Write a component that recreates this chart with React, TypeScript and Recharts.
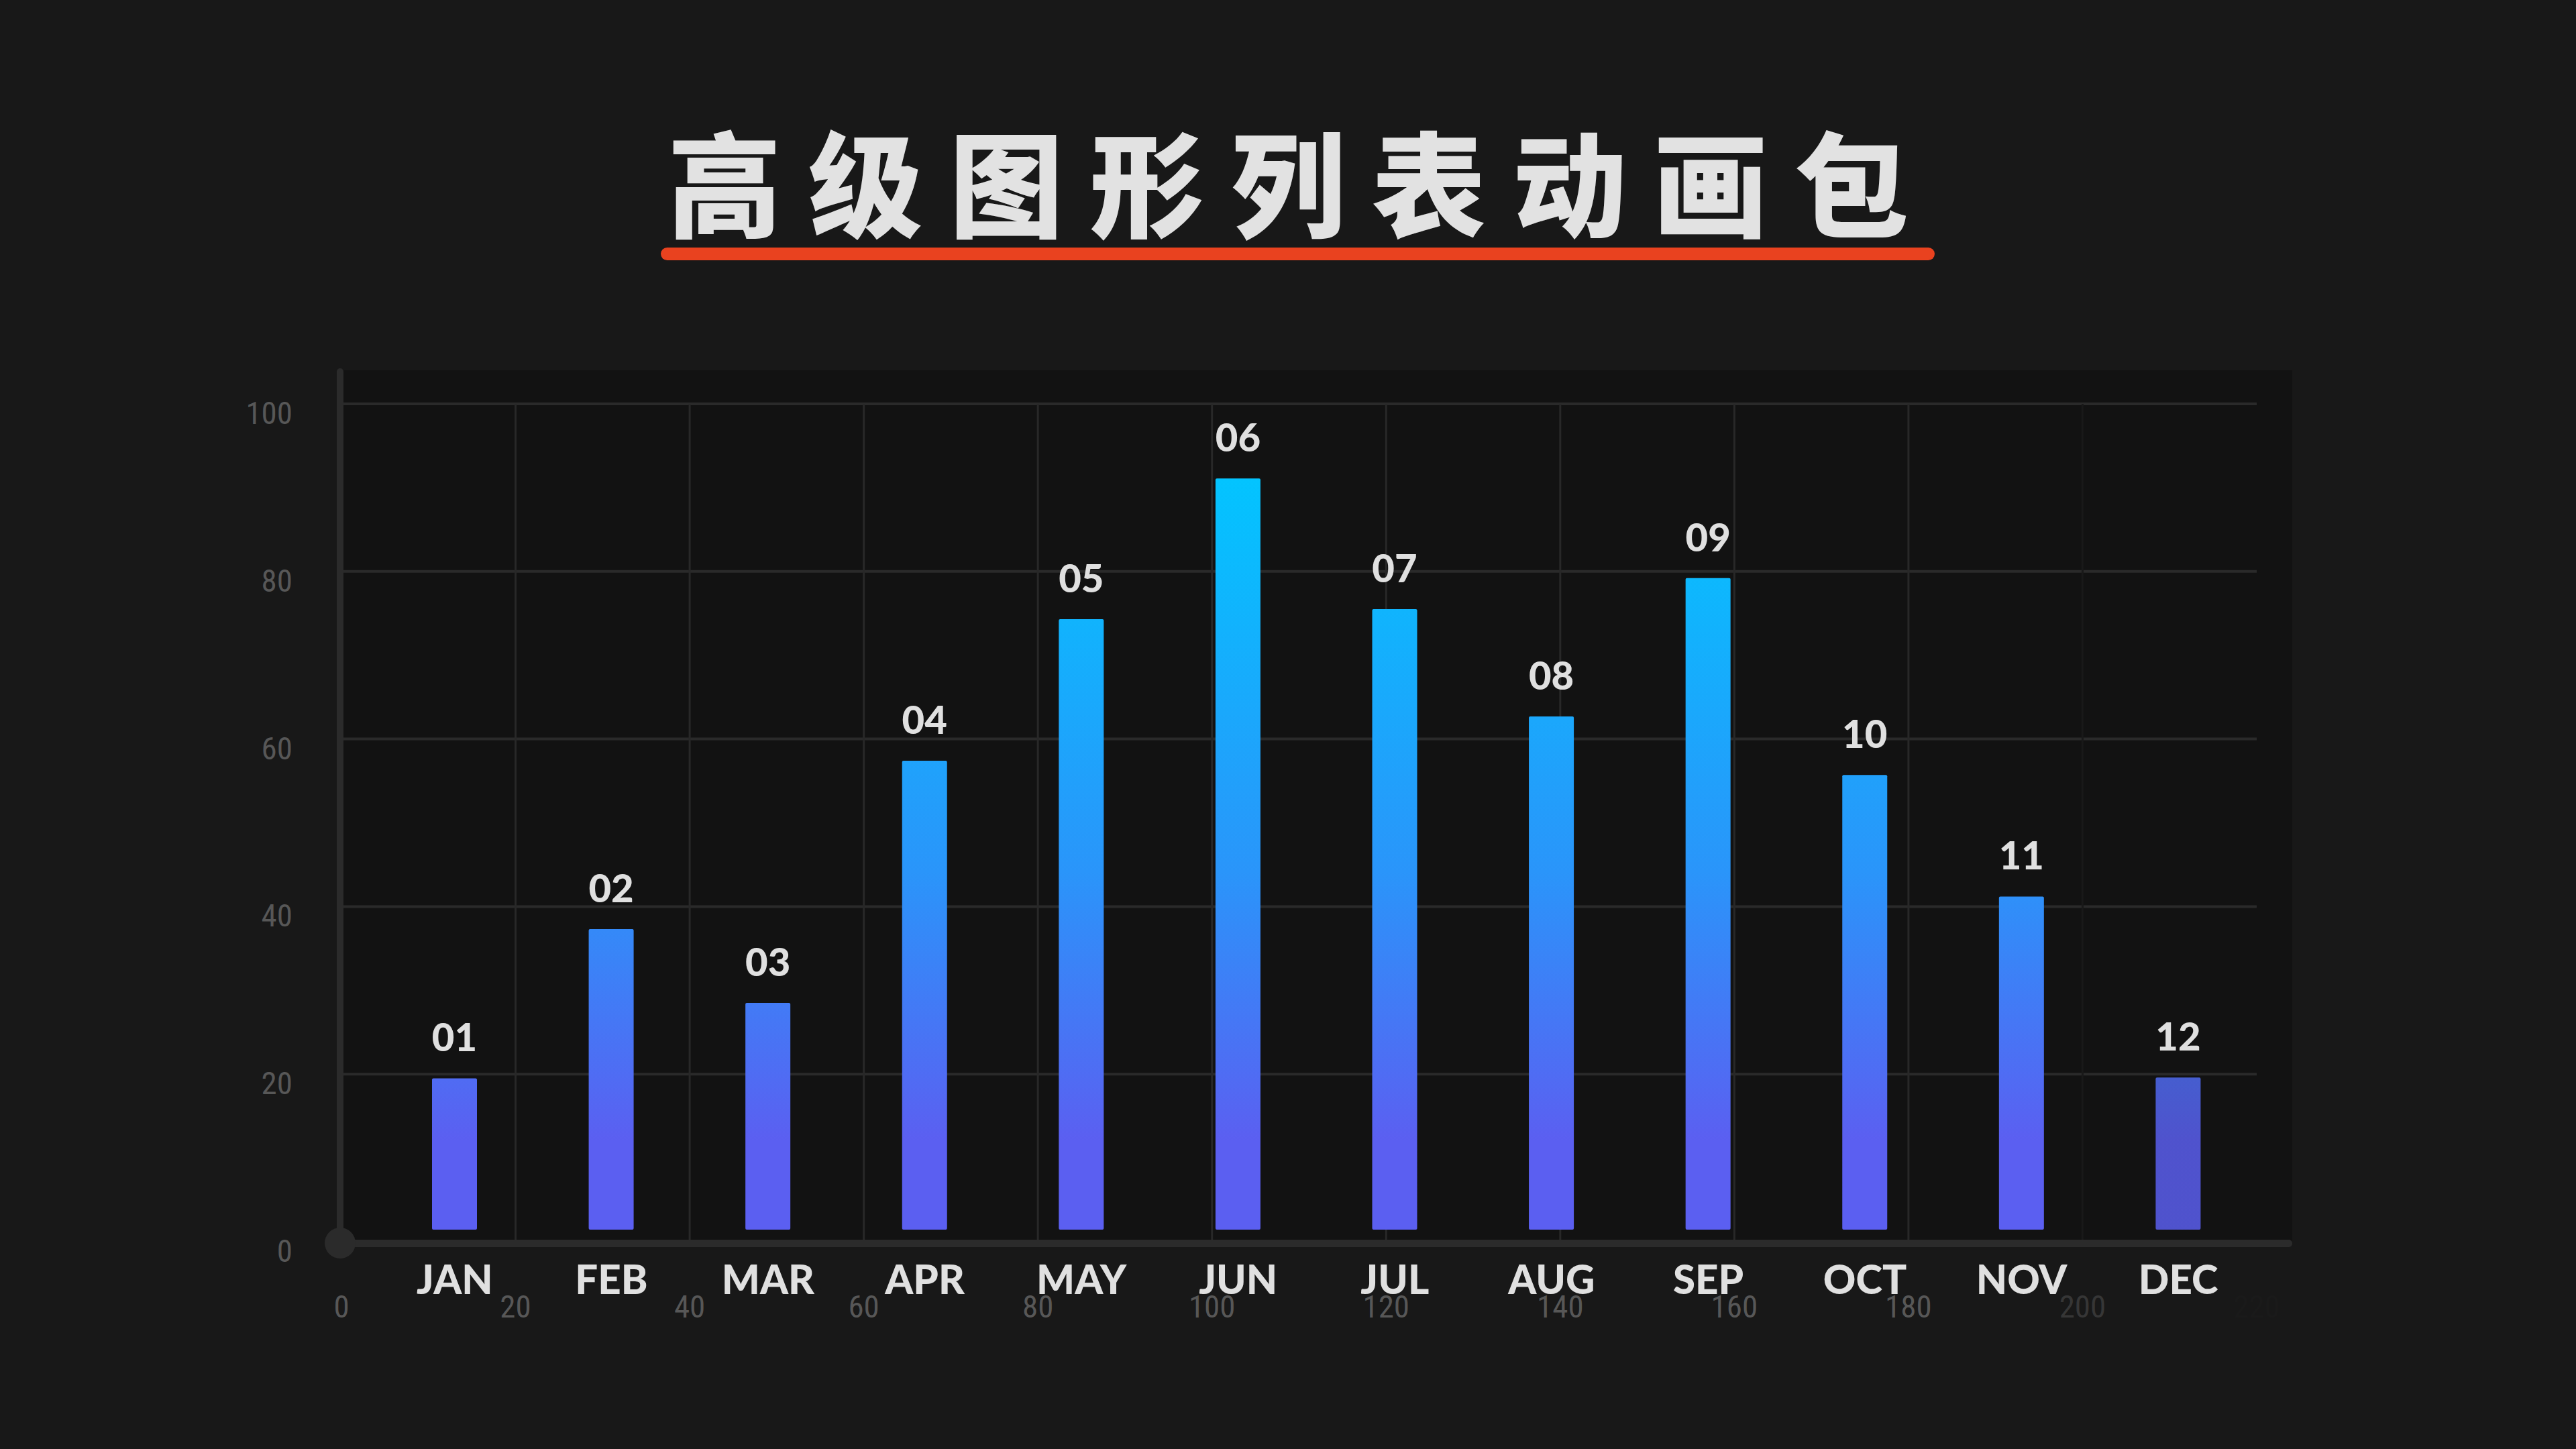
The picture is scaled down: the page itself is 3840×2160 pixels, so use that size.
import React from 'react';
import {
  BarChart,
  Bar,
  XAxis,
  YAxis,
  CartesianGrid,
  LabelList,
} from 'recharts';

// chart data
const months = ['JAN', 'FEB', 'MAR', 'APR', 'MAY', 'JUN', 'JUL', 'AUG', 'SEP', 'OCT', 'NOV', 'DEC'];
const tags = ['01', '02', '03', '04', '05', '06', '07', '08', '09', '10', '11', '12'];
const values = [19.5, 37.3, 28.5, 57.4, 74.3, 91.1, 75.5, 62.7, 79.2, 55.7, 41.2, 19.6];
const yTicks = [0, 20, 40, 60, 80, 100];
const xTicks = [0, 20, 40, 60, 80, 100, 120, 140, 160, 180, 200, 220];

const title = '高级图形列表动画包';

const data = months.map((m, i) => ({ month: m, tag: tags[i], value: values[i] }));

const W = 3840;
const H = 2160;
const BAR_GAP = 18; // bars stop a little above the baseline
const DIM_INDEX = months.length - 1;

const NUM_FONT = '"Liberation Sans Narrow", "Roboto Condensed", Roboto, sans-serif';
const BOLD_FONT = 'Lato, "Open Sans", sans-serif';

// vertical grid line per numeric tick; first/last skipped, 200 faded
const VLine = (props: any) => {
  const { x1, y1, x2, y2, index } = props;
  const v = xTicks[index];
  if (v === undefined || v === 0 || v >= 220) return <g />;
  return <line x1={x1} y1={y1} x2={x2} y2={y2} stroke={v >= 200 ? '#191919' : '#282828'} strokeWidth={3} />;
};

const BarShape = (props: any) => {
  const { x, y, width, height, index } = props;
  const h = Math.max(height - BAR_GAP, 0);
  return (
    <rect
      x={x}
      y={y}
      width={width}
      height={h}
      rx={2}
      fill="url(#barFill)"
      fillOpacity={index === DIM_INDEX ? 0.84 : 1}
    />
  );
};

const MonthTick = (props: any) => {
  const { x, y, payload } = props;
  return (
    <text x={x} y={y + 78} textAnchor="middle" fill="#e0e0e0" fontSize={60} fontWeight={900} fontFamily={BOLD_FONT}>
      {payload.value}
    </text>
  );
};

const NumTick = (props: any) => {
  const { x, y, payload } = props;
  const v = payload.value;
  // labels fade towards the right edge
  const fill = v >= 220 ? '#1a1a1a' : v >= 200 ? '#363636' : '#575757';
  return (
    <text x={x} y={y + 112} textAnchor="middle" fill={fill} fontSize={47} fontFamily={NUM_FONT}>
      {v}
    </text>
  );
};

const YTick = (props: any) => {
  const { y, payload } = props;
  return (
    <text x={436} y={y + 30} textAnchor="end" fill="#575757" fontSize={47} fontFamily={NUM_FONT}>
      {payload.value}
    </text>
  );
};

export default function App() {
  return (
    <div
      style={{
        position: 'fixed',
        left: 0,
        top: 0,
        width: W,
        height: H,
        background: '#181818',
        overflow: 'hidden',
      }}
    >
      {/* title */}
      <div
        style={{
          position: 'absolute',
          left: 0,
          top: 182,
          width: W,
          height: 170,
          lineHeight: '170px',
          textAlign: 'center',
          fontSize: 170,
          fontWeight: 900,
          letterSpacing: 40,
          paddingLeft: 40,
          boxSizing: 'border-box',
          color: '#e2e2e2',
          fontFamily: '"Noto Sans CJK SC", sans-serif',
        }}
      >
        {title}
      </div>
      <div
        style={{
          position: 'absolute',
          left: 985,
          top: 369,
          width: 1899,
          height: 19,
          borderRadius: 10,
          background: '#e9421f',
        }}
      />

      {/* plot panel */}
      <div style={{ position: 'absolute', left: 507, top: 552, width: 2910, height: 1301, background: '#121212' }} />

      <div style={{ position: 'absolute', left: 0, top: 0 }}>
        <BarChart
          width={W}
          height={H}
          data={data}
          margin={{ top: 602, right: 476, bottom: 307, left: 0 }}
          barSize={67}
        >
          <defs>
            <linearGradient id="barFill" gradientUnits="userSpaceOnUse" x1="0" y1="700" x2="0" y2="1700">
              <stop offset="0%" stopColor="#02c5ff" />
              <stop offset="60%" stopColor="#2a95fa" />
              <stop offset="100%" stopColor="#5b5ff1" />
            </linearGradient>
          </defs>
          <CartesianGrid
            xAxisId="num"
            stroke="#2a2a2a"
            strokeWidth={4}
            vertical={VLine}
          />
          <XAxis
            xAxisId="cat"
            dataKey="month"
            type="category"
            padding={{ left: 52, right: 0 }}
            height={1}
            axisLine={false}
            tickLine={false}
            tickSize={0}
            tickMargin={0}
            interval={0}
            tick={<MonthTick />}
          />
          <XAxis
            xAxisId="num"
            dataKey="value"
            type="number"
            domain={[0, 220]}
            ticks={xTicks}
            allowDataOverflow
            height={1}
            axisLine={false}
            tickLine={false}
            tickSize={0}
            tickMargin={0}
            interval={0}
            tick={<NumTick />}
          />
          <YAxis
            domain={[0, 100]}
            ticks={yTicks}
            width={509}
            axisLine={false}
            tickLine={false}
            interval={0}
            tick={<YTick />}
          />
          <Bar xAxisId="cat" dataKey="value" shape={<BarShape />} isAnimationActive={false}>
            <LabelList
              dataKey="tag"
              position="top"
              offset={40}
              fill="#e0e0e0"
              fontSize={58}
              fontWeight={900}
              fontFamily={BOLD_FONT}
            />
          </Bar>
        </BarChart>
      </div>

      {/* axis lines */}
      <div style={{ position: 'absolute', left: 502, top: 549, width: 10, height: 1304, borderRadius: 5, background: '#2b2b2b' }} />
      <div style={{ position: 'absolute', left: 502, top: 1848, width: 2915, height: 11, borderRadius: 5, background: '#2b2b2b' }} />
      <div style={{ position: 'absolute', left: 484, top: 1830, width: 46, height: 46, borderRadius: 23, background: '#2b2b2b' }} />
    </div>
  );
}
